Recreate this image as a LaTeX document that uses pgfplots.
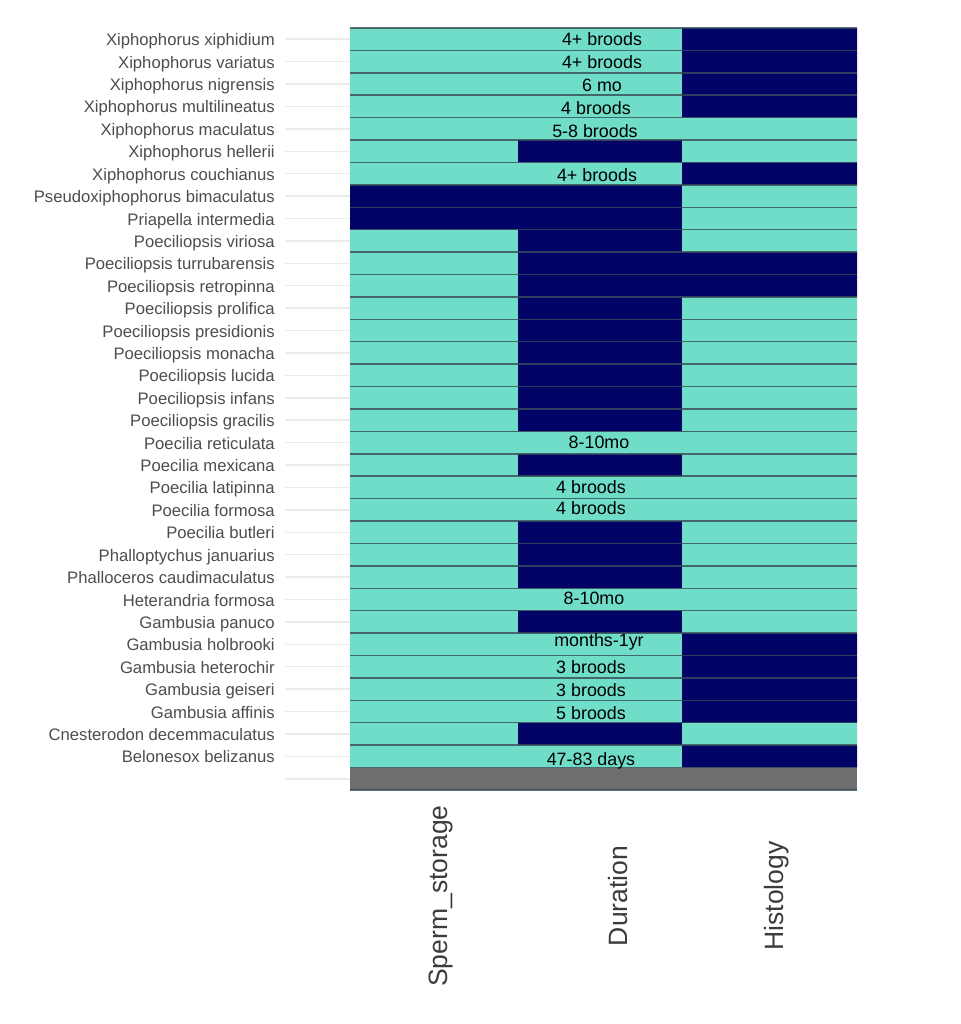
\documentclass[border=0pt]{standalone}
\usepackage{fontspec}
\setmainfont{Liberation Sans}
\usepackage{pgfplots}
\usepackage{pgfplotstable}
\pgfplotsset{compat=1.18}
\definecolor{tealc}{RGB}{111,221,200}
\definecolor{navyc}{RGB}{2,3,102}
\definecolor{grayc}{RGB}{110,110,110}
\definecolor{sepc}{RGB}{55,75,88}
\definecolor{gridc}{RGB}{235,235,235}
\definecolor{ticktext}{RGB}{77,77,77}
\definecolor{xticktext}{RGB}{60,60,60}

% y: 33 = top row, 0 = grey (NA) row; widths: Sperm 168, Duration 164, Histology 175
\pgfplotstableread{
y  st  sn  dt  dn  ht  hn  gr
0  0   0   0   0   0   0   507
1  168 0   164 0   0   175 0
2  168 0   0   164 175 0   0
3  168 0   164 0   0   175 0
4  168 0   164 0   0   175 0
5  168 0   164 0   0   175 0
6  168 0   164 0   0   175 0
7  168 0   0   164 175 0   0
8  168 0   164 0   175 0   0
9  168 0   0   164 175 0   0
10 168 0   0   164 175 0   0
11 168 0   0   164 175 0   0
12 168 0   164 0   175 0   0
13 168 0   164 0   175 0   0
14 168 0   0   164 175 0   0
15 168 0   164 0   175 0   0
16 168 0   0   164 175 0   0
17 168 0   0   164 175 0   0
18 168 0   0   164 175 0   0
19 168 0   0   164 175 0   0
20 168 0   0   164 175 0   0
21 168 0   0   164 175 0   0
22 168 0   0   164 0   175 0
23 168 0   0   164 0   175 0
24 168 0   0   164 175 0   0
25 0   168 0   164 175 0   0
26 0   168 0   164 175 0   0
27 168 0   164 0   0   175 0
28 168 0   0   164 175 0   0
29 168 0   164 0   175 0   0
30 168 0   164 0   0   175 0
31 168 0   164 0   0   175 0
32 168 0   164 0   0   175 0
33 168 0   164 0   0   175 0
}\tiles

\pgfplotstableread[col sep=comma]{
x,y,label
252,32.95,4+ broods
252,31.9,4+ broods
252,30.9,6 mo
246,29.87,4 broods
245,28.85,5-8 broods
247,26.88,4+ broods
249,14.97,8-10mo
241,12.95,4 broods
241,12,4 broods
244,8,8-10mo
249,6.13,months-1yr
241,4.9,3 broods
241,3.88,3 broods
241,2.86,5 broods
241,0.8,47-83 days
}\celllabels

\begin{document}
\begin{tikzpicture}
\path[use as bounding box] (0,0) rectangle (720pt,768pt);
\begin{axis}[
  at={(213.75pt,175.5pt)}, anchor=south west,
  scale only axis, width=429pt, height=571.5pt,
  xmin=-65, xmax=507, ymin=-0.5, ymax=33.5,
  clip=false,
  tile/.style={xbar stacked, bar width=1, bar shift=0pt, draw=none},
  axis line style={draw=none},
  major tick length=0pt,
  ytick={0,...,33},
  yticklabels={{},Belonesox belizanus,Cnesterodon decemmaculatus,Gambusia affinis,Gambusia geiseri,Gambusia heterochir,Gambusia holbrooki,Gambusia panuco,Heterandria formosa,Phalloceros caudimaculatus,Phalloptychus januarius,Poecilia butleri,Poecilia formosa,Poecilia latipinna,Poecilia mexicana,Poecilia reticulata,Poeciliopsis gracilis,Poeciliopsis infans,Poeciliopsis lucida,Poeciliopsis monacha,Poeciliopsis presidionis,Poeciliopsis prolifica,Poeciliopsis retropinna,Poeciliopsis turrubarensis,Poeciliopsis viriosa,Priapella intermedia,Pseudoxiphophorus bimaculatus,Xiphophorus couchianus,Xiphophorus hellerii,Xiphophorus maculatus,Xiphophorus multilineatus,Xiphophorus nigrensis,Xiphophorus variatus,Xiphophorus xiphidium},
  yticklabel style={font=\fontsize{12.5}{14}\selectfont, text=ticktext, inner sep=0pt, anchor=east, text height=0.72em, text depth=0pt, xshift=-7.5pt, yshift=-1.3pt},
  xtick={91,268,427},
  xticklabels={Sperm\_storage,Duration,Histology},
  xticklabel style={font=\fontsize{19.9}{22}\selectfont, text=xticktext, yshift=-79.5pt, rotate=90, anchor=center},
  ymajorgrids,
  major grid style={draw=gridc, line width=1.1pt},
]
\addplot[tile, fill=tealc] table[x=st, y=y] {\tiles};
\addplot[tile, fill=navyc] table[x=sn, y=y] {\tiles};
\addplot[tile, fill=tealc] table[x=dt, y=y] {\tiles};
\addplot[tile, fill=navyc] table[x=dn, y=y] {\tiles};
\addplot[tile, fill=tealc] table[x=ht, y=y] {\tiles};
\addplot[tile, fill=navyc] table[x=hn, y=y] {\tiles};
\addplot[tile, fill=grayc] table[x=gr, y=y] {\tiles};
% row separators (boundaries between rows), x from 0 to 507
\addplot[sharp plot, mark=none, draw=sepc, draw opacity=0.8, line width=1.1pt, unbounded coords=jump] coordinates {
(0,-0.5) (507,-0.5) (nan,nan) (0,0.5) (507,0.5) (nan,nan) (0,1.5) (507,1.5) (nan,nan)
(0,2.5) (507,2.5) (nan,nan) (0,3.5) (507,3.5) (nan,nan) (0,4.5) (507,4.5) (nan,nan)
(0,5.5) (507,5.5) (nan,nan) (0,6.5) (507,6.5) (nan,nan) (0,7.5) (507,7.5) (nan,nan)
(0,8.5) (507,8.5) (nan,nan) (0,9.5) (507,9.5) (nan,nan) (0,10.5) (507,10.5) (nan,nan)
(0,11.5) (507,11.5) (nan,nan) (0,12.5) (507,12.5) (nan,nan) (0,13.5) (507,13.5) (nan,nan)
(0,14.5) (507,14.5) (nan,nan) (0,15.5) (507,15.5) (nan,nan) (0,16.5) (507,16.5) (nan,nan)
(0,17.5) (507,17.5) (nan,nan) (0,18.5) (507,18.5) (nan,nan) (0,19.5) (507,19.5) (nan,nan)
(0,20.5) (507,20.5) (nan,nan) (0,21.5) (507,21.5) (nan,nan) (0,22.5) (507,22.5) (nan,nan)
(0,23.5) (507,23.5) (nan,nan) (0,24.5) (507,24.5) (nan,nan) (0,25.5) (507,25.5) (nan,nan)
(0,26.5) (507,26.5) (nan,nan) (0,27.5) (507,27.5) (nan,nan) (0,28.5) (507,28.5) (nan,nan)
(0,29.5) (507,29.5) (nan,nan) (0,30.5) (507,30.5) (nan,nan) (0,31.5) (507,31.5) (nan,nan)
(0,32.5) (507,32.5) (nan,nan) (0,33.5) (507,33.5)
};
\addplot[sharp plot, draw=none, mark=none,
  nodes near coords, nodes near coords align={center},
  point meta=explicit symbolic,
  every node near coord/.append style={font=\fontsize{13.4}{15}\selectfont, text=black, anchor=center, inner sep=0pt, text height=0.72em, text depth=0pt}]
  table[x=x, y=y, meta=label] {\celllabels};
\end{axis}
\end{tikzpicture}
\end{document}
